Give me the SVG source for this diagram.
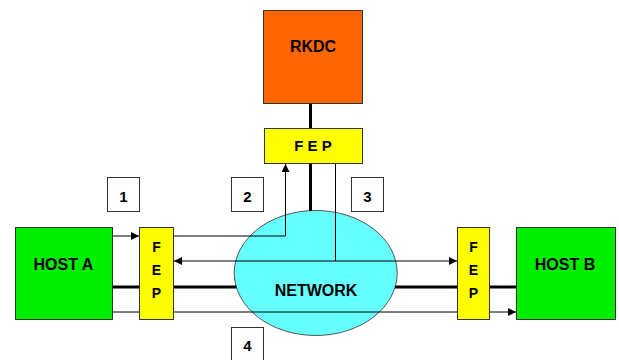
<svg xmlns="http://www.w3.org/2000/svg" width="619" height="360" viewBox="0 0 619 360">
  <defs>
    <marker id="arrow" viewBox="0 0 10 10" refX="10" refY="5" markerWidth="9" markerHeight="8" markerUnits="userSpaceOnUse" orient="auto">
      <path d="M0,0 L10,5 L0,10 z" fill="#000"/>
    </marker>
    <style>
      .lbl { font-family: "Liberation Sans", Arial, sans-serif; font-weight: bold; fill: #000; text-anchor: middle; }
      .host { fill: #00EE00; stroke: #333; stroke-width: 1; }
      .fep { fill: #FFFF00; stroke: #333; stroke-width: 1; }
      .num { fill: #fff; stroke: #333; stroke-width: 1; }
      .thin { stroke: #000; stroke-width: 1; fill: none; }
      .thick { stroke: #000; stroke-width: 3; fill: none; }
    </style>
  </defs>
  <rect width="619" height="360" fill="#fff"/>

  <!-- nodes -->
  <g id="rkdc">
    <rect x="263.5" y="10.5" width="99" height="93" fill="#FF6600" stroke="#333"/>
    <text class="lbl" x="313" y="52" font-size="16">RKDC</text>
  </g>
  <g id="fep-top">
    <rect class="fep" x="264.5" y="128.5" width="98" height="35"/>
    <text class="lbl" x="313" y="151" font-size="15">F E P</text>
  </g>
  <g id="network">
    <ellipse cx="315.7" cy="273" rx="81.5" ry="62.5" fill="#66FFFF" stroke="#555" stroke-width="1"/>
    <text class="lbl" x="316" y="296" font-size="16">NETWORK</text>
  </g>
  <g id="host-a">
    <rect class="host" x="15.5" y="227.5" width="97" height="92"/>
    <text class="lbl" x="63.5" y="269.5" font-size="16">HOST A</text>
  </g>
  <g id="fep-a">
    <rect class="fep" x="139.5" y="227.5" width="34" height="92"/>
    <text class="lbl" x="156.5" y="252" font-size="14">F</text>
    <text class="lbl" x="156.5" y="275" font-size="14">E</text>
    <text class="lbl" x="156.5" y="298" font-size="14">P</text>
  </g>
  <g id="fep-b">
    <rect class="fep" x="457.5" y="227.5" width="32" height="92"/>
    <text class="lbl" x="473.5" y="252" font-size="14">F</text>
    <text class="lbl" x="473.5" y="275" font-size="14">E</text>
    <text class="lbl" x="473.5" y="298" font-size="14">P</text>
  </g>
  <g id="host-b">
    <rect class="host" x="516.5" y="227.5" width="99" height="92"/>
    <text class="lbl" x="565" y="269.5" font-size="16">HOST B</text>
  </g>
  <g id="step-1">
    <rect class="num" x="107.5" y="177.5" width="32" height="34"/>
    <text class="lbl" x="123.5" y="201.5" font-size="15">1</text>
  </g>
  <g id="step-2">
    <rect class="num" x="231.5" y="177.5" width="32" height="34"/>
    <text class="lbl" x="247.5" y="201.5" font-size="15">2</text>
  </g>
  <g id="step-3">
    <rect class="num" x="351.5" y="177.5" width="32" height="34"/>
    <text class="lbl" x="367.5" y="201.5" font-size="15">3</text>
  </g>
  <g id="step-4">
    <rect class="num" x="231.5" y="327.5" width="32" height="40"/>
    <text class="lbl" x="247.5" y="350.5" font-size="15">4</text>
  </g>

  <!-- connectors -->
  <g id="connectors">
    <!-- trunk lines -->
    <line class="thick" x1="310.5" y1="104" x2="310.5" y2="128"/>
    <line class="thick" x1="310.5" y1="164" x2="310.5" y2="211"/>
    <line class="thick" x1="113" y1="287" x2="139" y2="287"/>
    <line class="thick" x1="174" y1="287" x2="236.5" y2="287"/>
    <line class="thick" x1="395" y1="287" x2="457" y2="287"/>
    <line class="thick" x1="490" y1="287" x2="516" y2="287"/>
    <!-- step 1: host A to its FEP -->
    <line class="thin" x1="113" y1="236" x2="139" y2="236" marker-end="url(#arrow)"/>
    <!-- step 2: FEP to the key centre -->
    <polyline class="thin" points="174,236 285.5,236 285.5,164" marker-end="url(#arrow)"/>
    <!-- step 3: key centre out to both FEPs -->
    <line class="thin" x1="335.5" y1="164" x2="335.5" y2="261"/>
    <line class="thin" x1="335.5" y1="261" x2="174" y2="261" marker-end="url(#arrow)"/>
    <line class="thin" x1="335.5" y1="261" x2="457" y2="261" marker-end="url(#arrow)"/>
    <!-- step 4: host A to host B -->
    <line class="thin" x1="113" y1="312" x2="139" y2="312"/>
    <line class="thin" x1="174" y1="312" x2="457" y2="312"/>
    <line class="thin" x1="490" y1="312" x2="516" y2="312" marker-end="url(#arrow)"/>
  </g>
</svg>
